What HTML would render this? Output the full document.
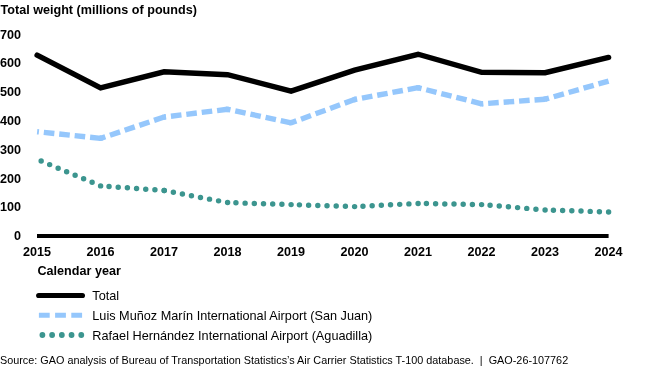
<!DOCTYPE html>
<html><head><meta charset="utf-8">
<style>
html,body{margin:0;padding:0;background:#fff;width:650px;height:371px;overflow:hidden}
svg{display:block;will-change:transform}
text{font-family:"Liberation Sans",sans-serif;fill:#000}
.b{font-weight:bold}
</style></head><body>
<svg width="650" height="371" viewBox="0 0 650 371">
<text x="0.5" y="14.2" class="b" font-size="12.6">Total weight (millions of pounds)</text>
<g class="b" font-size="12.6">
<text x="21" y="240.1" text-anchor="end">0</text>
<text x="21" y="211.3" text-anchor="end">100</text>
<text x="21" y="182.5" text-anchor="end">200</text>
<text x="21" y="153.7" text-anchor="end">300</text>
<text x="21" y="124.9" text-anchor="end">400</text>
<text x="21" y="96.1" text-anchor="end">500</text>
<text x="21" y="67.3" text-anchor="end">600</text>
<text x="21" y="38.5" text-anchor="end">700</text>
<text x="37.1" y="255.6" text-anchor="middle">2015</text>
<text x="100.6" y="255.6" text-anchor="middle">2016</text>
<text x="164.1" y="255.6" text-anchor="middle">2017</text>
<text x="227.6" y="255.6" text-anchor="middle">2018</text>
<text x="291.1" y="255.6" text-anchor="middle">2019</text>
<text x="354.6" y="255.6" text-anchor="middle">2020</text>
<text x="418.1" y="255.6" text-anchor="middle">2021</text>
<text x="481.6" y="255.6" text-anchor="middle">2022</text>
<text x="545.1" y="255.6" text-anchor="middle">2023</text>
<text x="608.6" y="255.6" text-anchor="middle">2024</text>

</g>
<text x="37.5" y="275.2" class="b" font-size="12.6">Calendar year</text>
<line x1="37" y1="236" x2="608.6" y2="236" stroke="#000" stroke-width="3.8"/>
<g fill="none" stroke="#95c7fc" stroke-width="5.4" stroke-linejoin="miter" stroke-dasharray="10.60,4.90"><line x1="100.60" y1="138.36" x2="37.10" y2="131.73"/><line x1="164.10" y1="117.04" x2="100.60" y2="138.36"/><line x1="227.60" y1="109.27" x2="164.10" y2="117.04"/><line x1="291.10" y1="122.80" x2="227.60" y2="109.27"/><line x1="354.60" y1="99.48" x2="291.10" y2="122.80"/><line x1="418.10" y1="87.67" x2="354.60" y2="99.48"/><line x1="481.60" y1="103.80" x2="418.10" y2="87.67"/><line x1="545.10" y1="99.19" x2="481.60" y2="103.80"/><line x1="608.60" y1="81.04" x2="545.10" y2="99.19"/><polyline stroke-dasharray="none" points="99.11,138.20 100.60,138.36 102.02,137.88"/><polyline stroke-dasharray="none" points="162.68,117.52 164.10,117.04 165.59,116.86"/><polyline stroke-dasharray="none" points="226.11,109.45 227.60,109.27 229.07,109.58"/><polyline stroke-dasharray="none" points="289.63,122.49 291.10,122.80 292.51,122.29"/><polyline stroke-dasharray="none" points="353.19,99.99 354.60,99.48 356.07,99.20"/><polyline stroke-dasharray="none" points="416.63,87.94 418.10,87.67 419.55,88.04"/><polyline stroke-dasharray="none" points="480.15,103.43 481.60,103.80 483.10,103.69"/><polyline stroke-dasharray="none" points="543.60,99.30 545.10,99.19 546.54,98.78"/></g>
<g fill="none" stroke="#3c958f" stroke-width="5.45" stroke-linecap="round" stroke-dasharray="0,9.200"><line x1="100.60" y1="185.88" x2="37.10" y2="159.38"/><line x1="164.10" y1="190.48" x2="100.60" y2="185.88"/><line x1="227.60" y1="202.58" x2="164.10" y2="190.48"/><line x1="291.10" y1="204.60" x2="227.60" y2="202.58"/><line x1="354.60" y1="206.61" x2="291.10" y2="204.60"/><line x1="418.10" y1="203.44" x2="354.60" y2="206.61"/><line x1="481.60" y1="204.60" x2="418.10" y2="203.44"/><line x1="545.10" y1="209.92" x2="481.60" y2="204.60"/><line x1="608.60" y1="212.00" x2="545.10" y2="209.92"/></g>
<polyline fill="none" stroke="#000" stroke-width="5.4" stroke-linecap="round" stroke-linejoin="miter" points="37.10,55.12 100.60,87.81 164.10,71.83 227.60,74.71 291.10,91.12 354.60,70.10 418.10,54.26 481.60,72.40 545.10,72.69 608.60,57.43"/>
<line x1="38.7" y1="295.5" x2="82.4" y2="295.5" stroke="#000" stroke-width="5.2" stroke-linecap="round"/>
<line x1="38.9" y1="315.25" x2="82.6" y2="315.25" stroke="#95c7fc" stroke-width="5.0" stroke-dasharray="10.8,5.4"/>
<line x1="42.4" y1="335" x2="81.5" y2="335" stroke="#3c958f" stroke-width="5.8" stroke-linecap="round" stroke-dasharray="0,9.72"/>
<g font-size="12.7">
<text x="92.3" y="300.4">Total</text>
<text x="92.3" y="319.8">Luis Muñoz Marín International Airport (San Juan)</text>
<text x="92.3" y="340">Rafael Hernández International Airport (Aguadilla)</text>
</g>
<text x="0" y="363.5" font-size="10.84" xml:space="preserve">Source: GAO analysis of Bureau of Transportation Statistics’s Air Carrier Statistics T-100 database.  |  GAO-26-107762</text>
</svg>
</body></html>
